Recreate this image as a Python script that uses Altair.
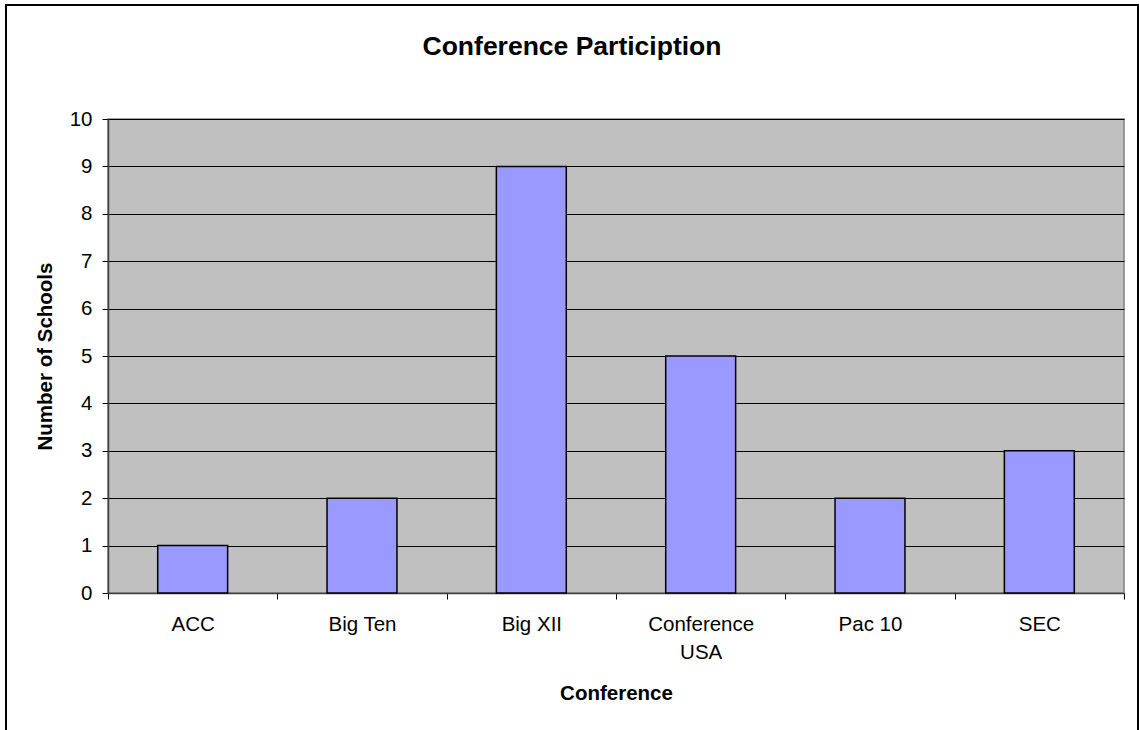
import altair as alt
import pandas as pd

title_text = ["Conference Particiption"]
conferences = ["ACC", "Big Ten", "Big XII", "Conference USA", "Pac 10", "SEC"]
schools = [1, 2, 9, 5, 2, 3]
y_ticks = list(range(0, 11))

df = pd.DataFrame({"Conference": conferences, "Schools": schools})

FONT = "Liberation Sans"

bars = alt.Chart(df).mark_bar(
    width=alt.RelativeBandSize(0.413),
    color="#9999FF",
    stroke="black",
    strokeWidth=1.5,
).encode(
    x=alt.X(
        "Conference:N",
        sort=conferences,
        scale=alt.Scale(paddingInner=0, paddingOuter=0),
        axis=alt.Axis(
            title="Conference",
            labelAngle=0,
            tickBand="extent",
            tickSize=6,
            tickColor="black",
            domainColor="#404040",
            domainWidth=1.5,
            labelFont=FONT,
            labelFontSize=20.5,
            labelColor="black",
            labelPadding=15,
            labelLineHeight=28,
            labelExpr="datum.label == 'Conference USA' ? ['Conference', 'USA'] : datum.label",
            titleFont=FONT,
            titleFontSize=20.5,
            titleFontWeight="bold",
            titleColor="black",
            titleY=90,
            titleBaseline="top",
            grid=False,
        ),
    ),
    y=alt.Y(
        "Schools:Q",
        scale=alt.Scale(domain=[0, 10], nice=False),
        axis=alt.Axis(
            title="Number of Schools",
            values=y_ticks,
            tickSize=6,
            tickColor="black",
            domainColor="#404040",
            domainWidth=1.5,
            grid=True,
            gridColor="black",
            gridWidth=1,
            labelFont=FONT,
            labelFontSize=20.5,
            labelColor="black",
            labelPadding=10,
            titleFont=FONT,
            titleFontSize=20.5,
            titleFontWeight="bold",
            titleColor="black",
            titleX=-63,
            titleY=237,
            titleAlign="center",
            titleBaseline="middle",
            titleAngle=270,
        ),
    ),
)

frame = alt.Chart(pd.DataFrame({"f": [0]})).mark_rect(
    fill=None, stroke="black", strokeWidth=2
).encode(
    x=alt.value(-102), x2=alt.value(1030), y=alt.value(-114), y2=alt.value(660)
)

title = alt.Chart(pd.DataFrame({"t": title_text})).mark_text(
    font=FONT,
    fontSize=26.5,
    fontWeight="bold",
    color="black",
    align="center",
    baseline="alphabetic",
).encode(
    text="t:N",
    x=alt.value(464),
    y=alt.value(-64),
)

chart = alt.layer(bars, frame, title).properties(
    width=1016,
    height=474,
    autosize=alt.AutoSizeParams(type="none"),
    padding={"left": 108, "top": 119, "right": 15, "bottom": 137},
    background="white",
).configure_view(
    fill="#C0C0C0", stroke="#808080", strokeWidth=1.5
)

chart.save("out.html", embed_options={"renderer": "svg", "actions": False})
